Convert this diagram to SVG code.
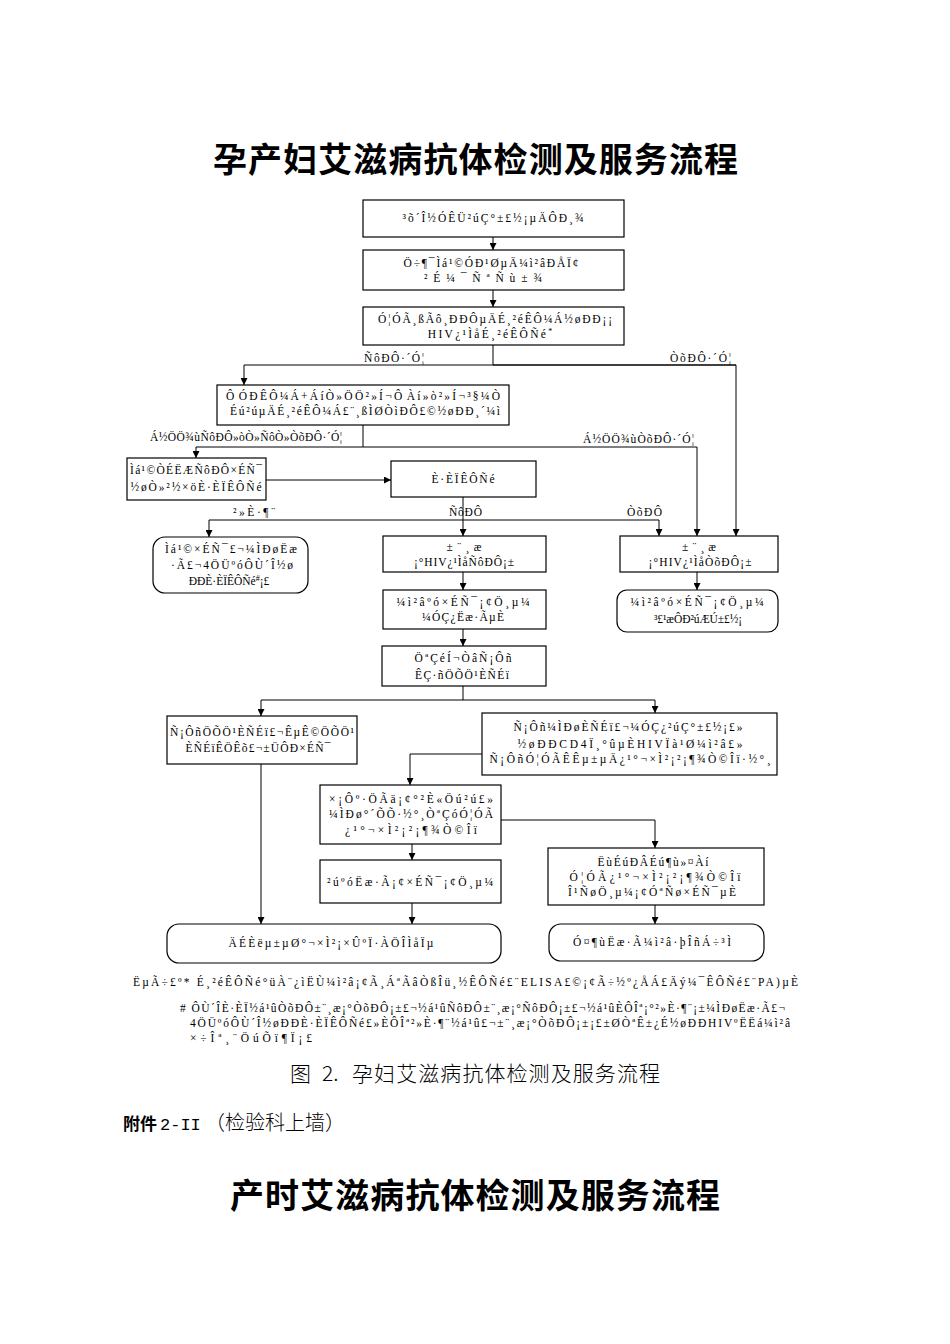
<svg xmlns="http://www.w3.org/2000/svg" width="950" height="1344" viewBox="0 0 950 1344">
<defs>
<marker id="ah" viewBox="0 0 10 10" refX="10" refY="5" markerWidth="7" markerHeight="7" markerUnits="userSpaceOnUse" orient="auto">
<path d="M0,0 L10,5 L0,10 z" fill="#000"/>
</marker>
</defs>
<style>
.box{fill:#fff;stroke:#000;stroke-width:1.2}
.t{font-family:"Liberation Serif","Times New Roman",serif;font-size:11.5px;fill:#000;text-anchor:middle}
.l{font-family:"Liberation Serif","Times New Roman",serif;font-size:11.5px;fill:#000}
.c{fill:none;stroke:#000;stroke-width:1}
.a{fill:none;stroke:#000;stroke-width:1;marker-end:url(#ah)}
.title{font-family:"Noto Sans CJK SC",sans-serif;font-size:34px;font-weight:bold;fill:#000}
.cap{font-family:"Noto Sans CJK SC",sans-serif;font-size:21px;font-weight:300;fill:#000}
</style>
<rect width="950" height="1344" fill="#fff"/>
<text class="title" x="213" y="172" textLength="525">孕产妇艾滋病抗体检测及服务流程</text>

<g id="connectors">
<line class="a" x1="493" y1="237" x2="493" y2="250"/>
<line class="a" x1="493" y1="290" x2="493" y2="307"/>
<polyline class="c" points="493,345 493,365"/>
<polyline class="a" points="736,365 244,365 244,385"/>
<polyline class="a" points="493,365 736,365 736,536"/>
<polyline class="c" points="363,425 363,447"/>
<polyline class="a" points="363,447 196,447 196,458"/>
<polyline class="a" points="363,447 697,447 697,536"/>
<line class="a" x1="266" y1="480" x2="391" y2="480"/>
<line class="a" x1="463" y1="497" x2="463" y2="536"/>
<polyline class="a" points="463,520 209,520 209,537"/>
<polyline class="a" points="463,520 659,520 659,536"/>
<line class="a" x1="463" y1="572" x2="463" y2="590"/>
<line class="a" x1="697" y1="572" x2="697" y2="590"/>
<line class="a" x1="463" y1="629" x2="463" y2="646"/>
<polyline class="c" points="463,686 463,700"/>
<polyline class="a" points="463,700 261,700 261,716"/>
<polyline class="a" points="463,700 655,700 655,713"/>
<line class="a" x1="261" y1="764" x2="261" y2="924"/>
<polyline class="a" points="482,754 410,754 410,785"/>
<polyline class="a" points="501,820 655,820 655,848"/>
<line class="a" x1="412" y1="844" x2="412" y2="860"/>
<line class="a" x1="412" y1="903" x2="412" y2="924"/>
<line class="a" x1="655" y1="905" x2="655" y2="924"/>
<text class="l" x="364" y="362" textLength="60">ÑôÐÔ·´Ó¦</text>
<text class="l" x="670" y="362" textLength="61">ÒõÐÔ·´Ó¦</text>
<text class="l" x="150" y="441" textLength="192">Á½ÖÖ¾ùÑôÐÔ»òÒ»ÑôÒ»ÒõÐÔ·´Ó¦</text>
<text class="l" x="583" y="443" textLength="111">Á½ÖÖ¾ùÒõÐÔ·´Ó¦</text>
<text class="l" x="233" y="516" textLength="42">²»È·¶¨</text>
<text class="l" x="449" y="516" textLength="33">ÑôÐÔ</text>
<text class="l" x="627" y="516" textLength="35">ÒõÐÔ</text>
</g>

<g id="n1"><rect class="box" x="363" y="200" width="261" height="37"/>
<text class="t" x="493" y="222" textLength="181">³õ´Î½ÓÊÜ²úÇ°±£½¡µÄÔÐ¸¾</text></g>
<g id="n2"><rect class="box" x="363" y="250" width="261" height="40"/>
<text class="t" x="491" y="267" textLength="175">Ö÷¶¯Ìá¹©ÓÐ¹ØµÄ¼ì²âÐÅÏ¢</text>
<text class="t" x="483" y="282" textLength="118">²É¼¯ÑªÑù±¾</text></g>
<g id="n3"><rect class="box" x="363" y="307" width="261" height="38"/>
<text class="t" x="495" y="323" textLength="234">Ó¦ÓÃ¸ßÃô¸ÐÐÔµÄÉ¸²éÊÔ¼Á½øÐÐ¡¡</text>
<text class="t" x="490" y="338"><tspan textLength="118">HIV¿¹ÌåÉ¸²éÊÔÑé</tspan><tspan font-size="8" dy="-4">*</tspan></text></g>
<g id="n4"><rect class="box" x="217" y="385" width="292" height="40"/>
<text class="t" x="363" y="400" textLength="274">Ô­ÓÐÊÔ¼Á+ÁíÒ»ÖÖ²»Í¬Ô­Àí»ò²»Í¬³§¼Ò</text>
<text class="t" x="365" y="415" textLength="270">Éú²úµÄÉ¸²éÊÔ¼Á£¨¸ßÌØÒìÐÔ£©½øÐÐ¸´¼ì</text></g>
<g id="n5"><rect class="box" x="127" y="458" width="139" height="42"/>
<text class="t" x="196" y="474" textLength="132">Ìá¹©ÒÉËÆÑôÐÔ×ÉÑ¯</text>
<text class="t" x="196" y="491" textLength="131">½øÒ»²½×öÈ·ÈÏÊÔÑé</text></g>
<g id="n6"><rect class="box" x="391" y="461" width="145" height="36"/>
<text class="t" x="463" y="483" textLength="63">È·ÈÏÊÔÑé</text></g>
<g id="n7"><rect class="box" x="153" y="537" width="155" height="56" rx="12"/>
<text class="t" x="231" y="553" textLength="132">Ìá¹©×ÉÑ¯£¬¼ÌÐøËæ</text>
<text class="t" x="232" y="569" textLength="122">·Ã£¬4ÖÜºóÔÙ´Î½ø</text>
<text class="t" x="229" y="585">ÐÐÈ·ÈÏÊÔÑé<tspan font-size="8" dy="-4">#</tspan><tspan dy="4">¡£</tspan></text></g>
<g id="n8"><rect class="box" x="383" y="536" width="163" height="36"/>
<text class="t" x="464" y="551" textLength="35">±¨¸æ</text>
<text class="t" x="464" y="566" textLength="100">¡°HIV¿¹ÌåÑôÐÔ¡±</text></g>
<g id="n9"><rect class="box" x="620" y="536" width="158" height="36"/>
<text class="t" x="699" y="551" textLength="34">±¨¸æ</text>
<text class="t" x="700" y="566" textLength="103">¡°HIV¿¹ÌåÒõÐÔ¡±</text></g>
<g id="n10"><rect class="box" x="383" y="590" width="163" height="39"/>
<text class="t" x="463" y="606" textLength="133">¼ì²âºó×ÉÑ¯¡¢Ö¸µ¼</text>
<text class="t" x="463" y="621" textLength="82">¼ÓÇ¿Ëæ·ÃµÈ</text></g>
<g id="n11"><rect class="box" x="617" y="590" width="161" height="42" rx="10"/>
<text class="t" x="697" y="606" textLength="133">¼ì²âºó×ÉÑ¯¡¢Ö¸µ¼</text>
<text class="t" x="698" y="623" textLength="88">³£¹æÔÐ²úÆÚ±£½¡</text></g>
<g id="n12"><rect class="box" x="382" y="646" width="164" height="40"/>
<text class="t" x="463" y="662" textLength="97">ÖªÇéÍ¬ÒâÑ¡Ôñ</text>
<text class="t" x="462" y="679" textLength="94">ÊÇ·ñÖÕÖ¹ÈÑÉï</text></g>
<g id="n13"><rect class="box" x="167" y="716" width="190" height="48"/>
<text class="t" x="262" y="736" textLength="184">Ñ¡ÔñÖÕÖ¹ÈÑÉï£¬ÊµÊ©ÖÕÖ¹</text>
<text class="t" x="258" y="752" textLength="145">ÈÑÉïÊÖÊõ£¬±ÜÔÐ×ÉÑ¯</text></g>
<g id="n14"><rect class="box" x="482" y="713" width="295" height="62"/>
<text class="t" x="628" y="731" textLength="229">Ñ¡Ôñ¼ÌÐøÈÑÉï£¬¼ÓÇ¿²úÇ°±£½¡£»</text>
<text class="t" x="630" y="748" textLength="225">½øÐÐCD4Ï¸°ûµÈHIVÏà¹Ø¼ì²â£»</text>
<text class="t" x="630" y="763" textLength="281">Ñ¡ÔñÓ¦ÓÃÊÊµ±µÄ¿¹°¬×Ì²¡²¡¶¾Ò©Îï·½°¸</text></g>
<g id="n15"><rect class="box" x="320" y="785" width="181" height="59"/>
<text class="t" x="411" y="803" textLength="164">×¡Ôº·ÖÃä¡¢°²È«Öú²ú£»</text>
<text class="t" x="411" y="818" textLength="164">¼ÌÐø°´ÕÕ·½°¸ÒªÇóÓ¦ÓÃ</text>
<text class="t" x="411" y="834" textLength="132">¿¹°¬×Ì²¡²¡¶¾Ò©Îï</text></g>
<g id="n16"><rect class="box" x="548" y="848" width="216" height="57"/>
<text class="t" x="653" y="866" textLength="111">ËùÉúÐÂÉú¶ù»¤Àí</text>
<text class="t" x="655" y="881" textLength="171">Ó¦ÓÃ¿¹°¬×Ì²¡²¡¶¾Ò©Îï</text>
<text class="t" x="652" y="896" textLength="168">Î¹ÑøÖ¸µ¼¡¢ÓªÑø×ÉÑ¯µÈ</text></g>
<g id="n17"><rect class="box" x="320" y="860" width="181" height="43"/>
<text class="t" x="410" y="886" textLength="166">²úºóËæ·Ã¡¢×ÉÑ¯¡¢Ö¸µ¼</text></g>
<g id="n18"><rect class="box" x="167" y="924" width="334" height="39" rx="12"/>
<text class="t" x="331" y="947" textLength="205">ÄÉÈëµ±µØ°¬×Ì²¡×ÛºÏ·ÀÖÎÌåÏµ</text></g>
<g id="n19"><rect class="box" x="549" y="924" width="215" height="37" rx="12"/>
<text class="t" x="652" y="946" textLength="158">Ó¤¶ùËæ·Ã¼ì²â·þÎñÁ÷³Ì</text></g>

<g id="notes">
<text class="l" x="133" y="986" textLength="665">ËµÃ÷£º* É¸²éÊÔÑé°üÀ¨¿ìËÙ¼ì²â¡¢Ã¸ÁªÃâÒßÎü¸½ÊÔÑé£¨ELISA£©¡¢Ã÷½º¿ÅÁ£Äý¼¯ÊÔÑé£¨PA)µÈ</text>
<text class="l" x="180" y="1012" textLength="605"># ÔÙ´ÎÈ·ÈÏ½á¹ûÒõÐÔ±¨¸æ¡°ÒõÐÔ¡±£¬½á¹ûÑôÐÔ±¨¸æ¡°ÑôÐÔ¡±£¬½á¹ûÈÔÎª¡°²»È·¶¨¡±¼ÌÐøËæ·Ã£¬</text>
<text class="l" x="190" y="1027" textLength="600">4ÖÜºóÔÙ´Î½øÐÐÈ·ÈÏÊÔÑé£»ÈÔÎª²»È·¶¨½á¹û£¬±¨¸æ¡°ÒõÐÔ¡±¡£±ØÒªÊ±¿É½øÐÐHIVºËËá¼ì²â</text>
<text class="l" x="190" y="1042" textLength="122">×÷Îª¸¨ÖúÕï¶Ï¡£</text>
</g>

<text class="cap" x="290" y="1081">图</text>
<text class="cap" x="322" y="1081">2.</text>
<text class="cap" x="352" y="1081" textLength="308">孕妇艾滋病抗体检测及服务流程</text>
<text y="1130" font-family="Noto Sans CJK SC, sans-serif"><tspan x="123" font-size="17" font-weight="bold">附件</tspan><tspan x="160" font-size="17" font-family="Liberation Mono, monospace">2-II</tspan><tspan x="205" font-size="20" font-weight="300">（检验科上墙）</tspan></text>
<text class="title" x="230" y="1208" textLength="490">产时艾滋病抗体检测及服务流程</text>
</svg>
